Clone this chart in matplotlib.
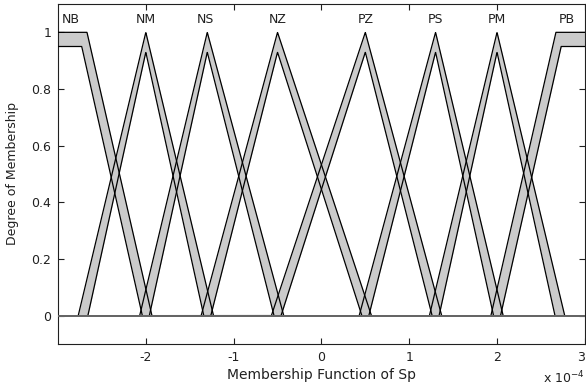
import numpy as np
import matplotlib
matplotlib.use("Agg")
import matplotlib.pyplot as plt

plt.rcParams['font.family'] = ['DejaVu Sans']
plt.rcParams['axes.unicode_minus'] = False

# membership function data (x in units of 1e-4)
names = ['NB', 'NM', 'NS', 'NZ', 'PZ', 'PS', 'PM', 'PB']
peaks = [-2.7, -2.0, -1.3, -0.5, 0.5, 1.3, 2.0, 2.7]
label_x = [-2.85, -2.0, -1.32, -0.5, 0.5, 1.3, 2.0, 2.8]
out_spread = 0.07      # upper MF feet pushed outwards
in_spread = 0.04       # lower MF feet pulled inwards
shoulder_spread = 0.03
lower_peak = 0.93
lower_shoulder = 0.95

x = np.linspace(-3.2, 3.2, 3001)

def mf_pair(i):
    n = len(peaks)
    if i == 0:
        up = np.interp(x, [-3.2, peaks[0] + shoulder_spread, peaks[1] + out_spread], [1, 1, 0])
        lo = np.interp(x, [-3.2, peaks[0] - shoulder_spread, peaks[1] - in_spread],
                       [lower_shoulder, lower_shoulder, 0])
    elif i == n - 1:
        up = np.interp(x, [peaks[-2] - out_spread, peaks[-1] - shoulder_spread, 3.2], [0, 1, 1])
        lo = np.interp(x, [peaks[-2] + in_spread, peaks[-1] + shoulder_spread, 3.2],
                       [0, lower_shoulder, lower_shoulder])
    else:
        up = np.interp(x, [peaks[i-1] - out_spread, peaks[i], peaks[i+1] + out_spread], [0, 1, 0])
        lo = np.interp(x, [peaks[i-1] + in_spread, peaks[i], peaks[i+1] - in_spread],
                       [0, lower_peak, 0])
    return up, lo

fig = plt.figure(figsize=(5.86, 3.88), dpi=100)
ax = fig.add_axes([0.099, 0.1134, 0.899, 0.8763])

txt = '#202020'
for i in range(len(names)):
    up, lo = mf_pair(i)
    ax.fill_between(x, lo, up, color='#cbcbcb', linewidth=0, zorder=2)
    ax.plot(x, up, color='black', lw=0.9, zorder=3)
    ax.plot(x, lo, color='black', lw=0.9, zorder=3)
    ax.text(label_x[i], 1.045, names[i], ha='center', va='center', fontsize=9, color=txt)

ax.axhline(0, color='#707070', lw=1.3, zorder=4)

ax.set_xlim(-3, 3)
ax.set_ylim(-0.1, 1.1)
ax.set_xticks([-2, -1, 0, 1, 2, 3])
ax.set_yticks([0, 0.2, 0.4, 0.6, 0.8, 1])
ax.set_yticklabels(['0', '0.2', '0.4', '0.6', '0.8', '1'])
ax.tick_params(direction='in', top=True, right=True, length=4, width=0.8,
               labelsize=9, colors=txt, pad=5)
# keep the last x tick label inside the figure
ax.get_xticklabels()[-1].set_horizontalalignment('right')
for s in ax.spines.values():
    s.set_linewidth(0.8)
    s.set_color(txt)

ax.set_xlabel('Membership Function of Sp', fontsize=10, color=txt, labelpad=3)
ax.set_ylabel('Degree of Membership', fontsize=9, color=txt, labelpad=9)
fig.text(0.997, 0.012, r'x 10$^{-4}$', fontsize=9, color=txt, ha='right')

fig.savefig('out.png', dpi=100)
